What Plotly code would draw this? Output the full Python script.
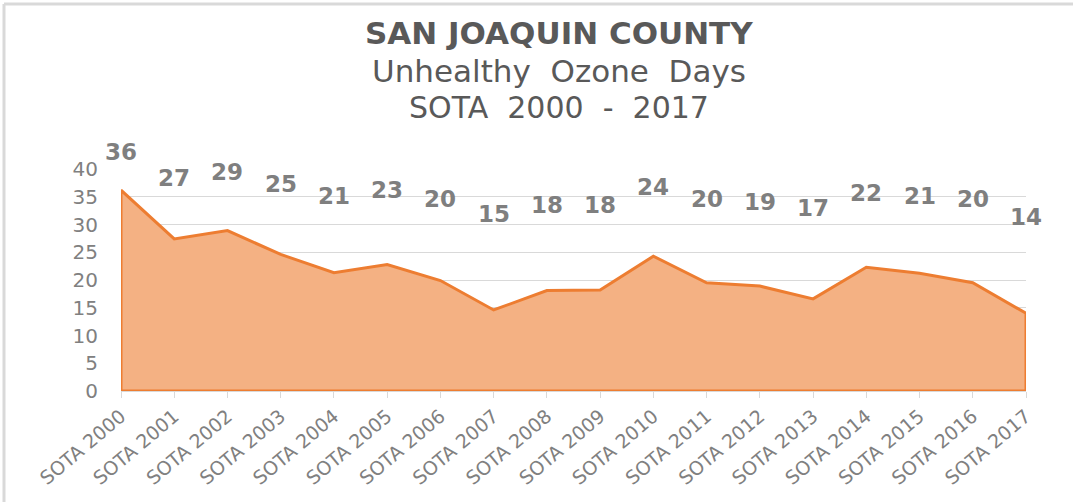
import plotly.graph_objects as go

categories = ["SOTA 2000", "SOTA 2001", "SOTA 2002", "SOTA 2003", "SOTA 2004", "SOTA 2005",
              "SOTA 2006", "SOTA 2007", "SOTA 2008", "SOTA 2009", "SOTA 2010", "SOTA 2011",
              "SOTA 2012", "SOTA 2013", "SOTA 2014", "SOTA 2015", "SOTA 2016", "SOTA 2017"]
values = [36.2, 27.4, 28.9, 24.6, 21.3, 22.8, 19.9, 14.6, 18.1, 18.2, 24.3, 19.5,
          18.9, 16.6, 22.3, 21.2, 19.5, 14.0]
labels = [36, 27, 29, 25, 21, 23, 20, 15, 18, 18, 24, 20, 19, 17, 22, 21, 20, 14]
y_ticks = [0, 5, 10, 15, 20, 25, 30, 35, 40]
title_lines = ["SAN JOAQUIN COUNTY", "Unhealthy  Ozone  Days", "SOTA  2000  -  2017"]

W, H = 1073, 502
L, R, T, B = 121, W - 1026, 169, H - 391
pw, ph = W - L - R, H - T - B
Y_MAX = 40


def px(xp):
    return (xp - L) / pw


def py(yp):
    return (H - B - yp) / ph


fig = go.Figure()

# area polygon (outlined on all sides, like the original)
poly_x = [categories[0]] + categories + [categories[-1], categories[0]]
poly_y = [0] + values + [0, 0]
fig.add_trace(go.Scatter(
    x=poly_x, y=poly_y, mode="lines", fill="toself",
    fillcolor="#F4B183", line=dict(color="#ED7D31", width=3),
    hoverinfo="skip", showlegend=False,
))

# data labels placed above the series on a compressed scale
for cat, v in zip(categories, labels):
    fig.add_annotation(
        x=cat, y=(24 + 0.53 * v) / Y_MAX, xref="x", yref="paper", text=str(v),
        showarrow=False,
        font=dict(family="DejaVu Sans", size=23, color="#7F7F7F", weight="bold"),
        xanchor="center", yanchor="middle",
    )


def nb(s):
    return s.replace(" ", "&nbsp;")


title_specs = [(title_lines[0], 33, 31, True),
               (title_lines[1], 71, 31, False),
               (title_lines[2], 108, 30, False)]
for txt, ypix, size, bold in title_specs:
    fig.add_annotation(
        x=px(559), y=py(ypix), xref="paper", yref="paper",
        text=("<b>%s</b>" % nb(txt)) if bold else nb(txt), showarrow=False,
        font=dict(family="DejaVu Sans", size=size, color="#595959"),
        xanchor="center", yanchor="middle",
    )

# chart border (top and left visible)
fig.add_shape(type="line", xref="paper", yref="paper", x0=px(4), x1=px(W + 5),
              y0=py(4), y1=py(4), line=dict(color="#D9D9D9", width=3))
fig.add_shape(type="line", xref="paper", yref="paper", x0=px(4), x1=px(4),
              y0=py(4), y1=py(H + 5), line=dict(color="#D9D9D9", width=3))

fig.update_layout(
    width=W, height=H,
    margin=dict(l=L, r=R, t=T, b=B, pad=0),
    paper_bgcolor="white", plot_bgcolor="white",
    showlegend=False,
    xaxis=dict(
        type="category", range=[0, len(categories) - 1], automargin=False,
        showgrid=False, showline=True, linecolor="#D9D9D9", linewidth=1,
        ticks="outside", ticklen=6, tickcolor="#D9D9D9", tickwidth=1,
        tickangle=-40, tickfont=dict(family="DejaVu Sans", size=19, color="#808080"),
        fixedrange=True,
    ),
    yaxis=dict(
        range=[0, Y_MAX], tickvals=y_ticks, automargin=False,
        showgrid=True, gridcolor="#D9D9D9", gridwidth=1,
        zeroline=False, showline=False, ticks="",
        tickfont=dict(family="DejaVu Sans", size=20, color="#808080"),
        ticklabelstandoff=22, fixedrange=True,
    ),
)

fig.write_html("out.html", config={"displayModeBar": False},
               post_script="document.body.style.margin='0';")
